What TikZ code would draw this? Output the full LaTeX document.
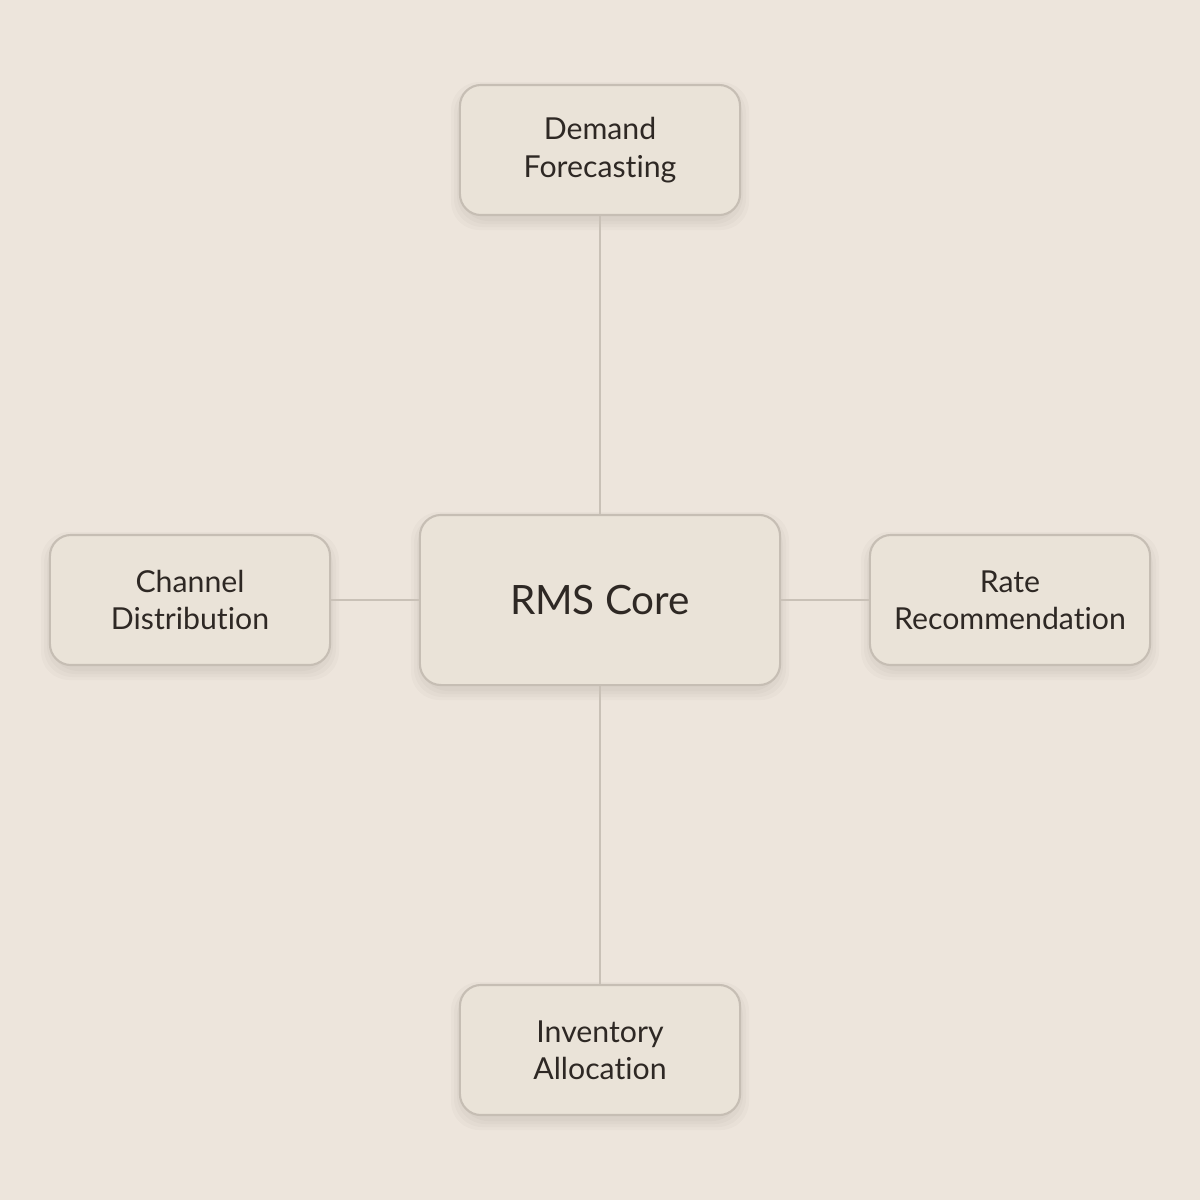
\documentclass[tikz,border=0pt]{standalone}
\usepackage{fontspec}
\setmainfont{Lato}[RawFeature={-liga}]
\definecolor{bg}{HTML}{EDE5DC}
\definecolor{boxfill}{HTML}{EAE3D8}
\definecolor{boxline}{HTML}{C6BEB4}
\definecolor{conn}{HTML}{C9C1B7}
\definecolor{txt}{HTML}{2E2824}
\begin{document}
\begin{tikzpicture}[x=0.01cm,y=-0.01cm,
  box/.style={draw=boxline,fill=boxfill,line width=0.6pt,rounded corners=6pt,
    align=center,text=txt,font=\fontsize{8.6pt}{10.6pt}\selectfont,
    minimum width=2.8cm,minimum height=1.3cm,inner sep=0pt},
  shad/.style={fill=black,opacity=0.018,rounded corners=8pt},
  link/.style={draw=conn,line width=0.6pt}]
\fill[bg] (0,0) rectangle (1200,1200);
\useasboundingbox (0,0) rectangle (1200,1200);
\foreach \cx/\cy/\w/\h in {600/600/180/85,600/150/140/65,190/600/140/65,1010/600/140/65,600/1050/140/65}{
  \foreach \s in {2,5,8,11}{
    \fill[shad] (\cx-\w-\s+2,\cy-\h-\s+8) rectangle (\cx+\w+\s-2,\cy+\h+\s+4);
  }
}
\node[box,minimum width=3.6cm,minimum height=1.7cm,font=\fontsize{11.5pt}{13pt}\selectfont] (core) at (600,600) {RMS Core};
\node[box] (dem) at (600,150) {Demand\\Forecasting};
\node[box] (ch) at (190,600) {Channel\\Distribution};
\node[box] (rate) at (1010,600) {Rate\\Recommendation};
\node[box] (inv) at (600,1050) {Inventory\\Allocation};
\draw[link] (dem) -- (core);
\draw[link] (ch) -- (core);
\draw[link] (rate) -- (core);
\draw[link] (inv) -- (core);
\end{tikzpicture}
\end{document}
